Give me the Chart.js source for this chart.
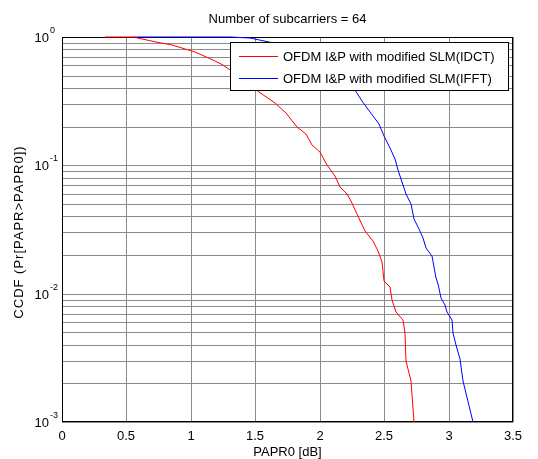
<!DOCTYPE html>
<html>
<head>
<meta charset="utf-8">
<script src="https://cdn.jsdelivr.net/npm/chart.js@4.4.1/dist/chart.umd.min.js"></script>
<style>
html,body{margin:0;padding:0;background:#fff;}
canvas{display:block;}
</style>
</head>
<body>
<canvas id="c" width="538" height="459"></canvas>
<script>
// ---- data ----
const titleText = "Number of subcarriers = 64";
const xLabel = "PAPR0 [dB]";
const yLabel = "CCDF (Pr[PAPR>PAPR0])";
const seriesNames = ["OFDM I&P with modified SLM(IDCT)", "OFDM I&P with modified SLM(IFFT)"];

const idctX = [0.33, 0.55, 0.73, 0.85, 1.03, 1.17, 1.25, 1.33, 1.43, 1.53, 1.65, 1.74, 1.82, 1.89, 1.94, 2.00, 2.06, 2.12, 2.16, 2.21, 2.24, 2.29, 2.35, 2.41, 2.45, 2.48, 2.50, 2.545, 2.56, 2.595, 2.65, 2.66, 2.67, 2.71, 2.73];
const idctP = [1, 1, 0.91, 0.87, 0.77, 0.66, 0.605, 0.537, 0.45, 0.375, 0.304, 0.254, 0.2, 0.175, 0.144, 0.128, 0.1, 0.083, 0.068, 0.06, 0.053, 0.042, 0.031, 0.0256, 0.0215, 0.0175, 0.0125, 0.0113, 0.0089, 0.0072, 0.0062, 0.0049, 0.003, 0.0021, 0.001];

const ifftX = [0.55, 1.30, 1.46, 1.61, 1.70, 1.80, 1.90, 2.00, 2.10, 2.20, 2.27, 2.33, 2.39, 2.46, 2.50, 2.545, 2.585, 2.61, 2.635, 2.67, 2.71, 2.73, 2.77, 2.80, 2.825, 2.87, 2.89, 2.905, 2.92, 2.945, 2.97, 2.985, 3.025, 3.035, 3.06, 3.085, 3.11, 3.19];
const ifftP = [1, 1, 0.977, 0.92, 0.87, 0.83, 0.75, 0.66, 0.56, 0.45, 0.385, 0.315, 0.262, 0.209, 0.169, 0.136, 0.112, 0.092, 0.074, 0.06, 0.05, 0.038, 0.032, 0.027, 0.0226, 0.0195, 0.016, 0.0132, 0.012, 0.0092, 0.0082, 0.0072, 0.0062, 0.0049, 0.004, 0.0031, 0.0021, 0.001];

const xTicks = [0, 0.5, 1, 1.5, 2, 2.5, 3, 3.5];
const yDecades = [0, -1, -2, -3];
const yGridValues = [];
for (let e = -3; e < 0; e++) {
  for (let m = 1; m <= 9; m++) yGridValues.push(m * Math.pow(10, e));
}
yGridValues.push(1);

const FONT = '"Liberation Sans", Arial, Helvetica, sans-serif';

const toPts = (xs, ys) => xs.map((x, i) => ({x: x, y: ys[i]}));

const decor = {
  id: 'decor',
  beforeDraw(chart) {
    const ctx = chart.ctx;
    ctx.save();
    ctx.fillStyle = '#fff';
    ctx.fillRect(0, 0, chart.width, chart.height);
    ctx.restore();
  },
  beforeDatasetsDraw(chart) {
    const ctx = chart.ctx;
    const a = chart.chartArea;
    ctx.save();
    ctx.strokeStyle = '#000';
    ctx.lineWidth = 1;
    ctx.strokeRect(Math.round(a.left) + 0.5, Math.round(a.top) + 0.5, Math.round(a.right - a.left) - 1, Math.round(a.bottom - a.top) - 1);
    ctx.restore();
  },
  afterDatasetsDraw(chart) {
    const ctx = chart.ctx;
    const a = chart.chartArea;
    const ys = chart.scales.y;
    ctx.save();
    // legend
    const lx0 = 230.5, ly0 = 42.5, lw = 278, lh = 48;
    ctx.fillStyle = '#fff';
    ctx.fillRect(lx0, ly0, lw, lh);
    ctx.strokeStyle = '#000';
    ctx.lineWidth = 1;
    ctx.strokeRect(lx0, ly0, lw, lh);
    const rows = [56, 78];
    const cols = ['#ff0000', '#0000ff'];
    ctx.font = '13px ' + FONT;
    ctx.textBaseline = 'middle';
    ctx.textAlign = 'left';
    for (let i = 0; i < 2; i++) {
      ctx.strokeStyle = cols[i];
      ctx.beginPath();
      ctx.moveTo(239, rows[i] + 0.5);
      ctx.lineTo(278, rows[i] + 0.5);
      ctx.stroke();
      ctx.fillStyle = '#000';
      ctx.fillText(seriesNames[i], 283, rows[i] + 1);
    }

    // title
    ctx.textAlign = 'center';
    ctx.fillText(titleText, (a.left + a.right) / 2, 19);
    // x label
    ctx.fillText(xLabel, (a.left + a.right) / 2, 452);

    // y tick labels 10^e
    for (const e of yDecades) {
      const py = ys.getPixelForValue(Math.pow(10, e));
      ctx.font = '13px ' + FONT;
      ctx.textAlign = 'right';
      ctx.textBaseline = 'middle';
      ctx.fillText('10', 49, py + 1);
      ctx.font = '9px ' + FONT;
      ctx.textAlign = 'left';
      ctx.fillText(String(e), 50, py - 6);
    }

    // y label (rotated)
    ctx.font = '13px ' + FONT;
    ctx.translate(19, 232);
    ctx.rotate(-Math.PI / 2);
    ctx.textAlign = 'center';
    ctx.textBaseline = 'middle';
    try { ctx.letterSpacing = '1px'; } catch (e) {}
    ctx.fillText(yLabel, 0, 0);
    ctx.restore();
  }
};

new Chart(document.getElementById('c'), {
  type: 'line',
  data: {
    datasets: [
      {label: seriesNames[0], data: toPts(idctX, idctP), borderColor: '#ff0000', borderWidth: 1, pointRadius: 0, tension: 0, fill: false, clip: 2},
      {label: seriesNames[1], data: toPts(ifftX, ifftP), borderColor: '#0000ff', borderWidth: 1, pointRadius: 0, tension: 0, fill: false, clip: 2}
    ]
  },
  options: {
    responsive: false,
    devicePixelRatio: 1,
    animation: false,
    layout: {padding: {top: 37, right: 25, left: 0, bottom: 0}},
    plugins: {legend: {display: false}, tooltip: {enabled: false}, title: {display: false}},
    scales: {
      x: {
        type: 'linear',
        min: 0, max: 3.5,
        alignToPixels: true,
        afterBuildTicks: s => { s.ticks = xTicks.map(v => ({value: v})); },
        afterFit: s => { s.height = 37; },
        border: {display: false},
        grid: {color: '#8a8a8a', lineWidth: 1, drawTicks: false},
        ticks: {
          autoSkip: false, maxRotation: 0, padding: 7,
          color: '#000',
          font: {family: FONT, size: 13},
          callback: v => String(v)
        }
      },
      y: {
        type: 'logarithmic',
        min: 0.001, max: 1,
        alignToPixels: true,
        afterBuildTicks: s => { s.ticks = yGridValues.map(v => ({value: v})); },
        afterFit: s => { s.width = 62; },
        border: {display: false},
        grid: {color: '#8a8a8a', lineWidth: 1, drawTicks: false},
        ticks: {display: false}
      }
    }
  },
  plugins: [decor]
});
</script>
</body>
</html>
